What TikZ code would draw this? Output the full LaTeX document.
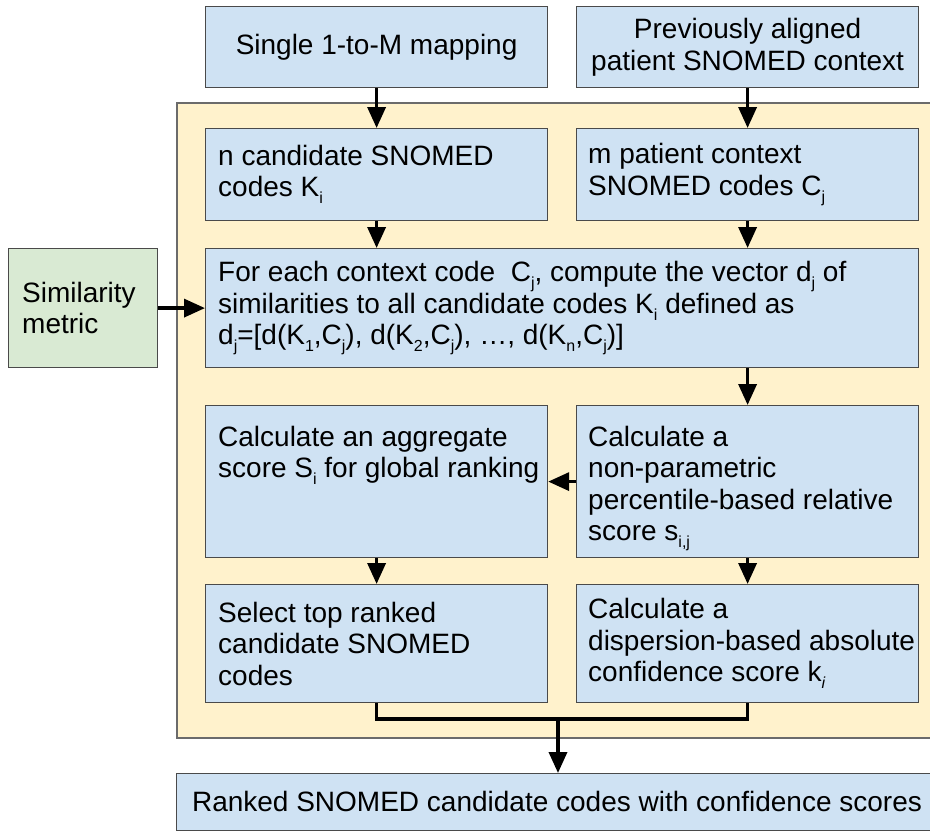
\documentclass[tikz,border=0pt]{standalone}
\usepackage{fontspec}
\setmainfont{Liberation Sans}
\usetikzlibrary{arrows.meta,calc}
\definecolor{boxblue}{HTML}{CFE2F3}
\definecolor{boxgreen}{HTML}{D9EAD3}
\definecolor{contyellow}{HTML}{FFF2CC}
\definecolor{bordergray}{HTML}{4A4A4A}
\definecolor{contgray}{HTML}{6B6B6B}
\newcommand\bodyfont{\fontsize{28}{31.5}\selectfont}
\newcommand\subs[1]{\raisebox{-7pt}{\fontsize{16}{16}\selectfont #1}}
\tikzset{
  box/.style={draw=bordergray, fill=boxblue, line width=1.2pt, inner sep=0pt, anchor=north west},
  gbox/.style={box, fill=boxgreen},
  txt/.style={font=\bodyfont, align=left, inner sep=0pt, text=black},
  arr/.style={line width=3.5pt, -{Triangle[length=21pt,width=18pt]}},
  plain/.style={line width=3.5pt},
}
\begin{document}
\begin{tikzpicture}[x=1pt,y=-1pt]
\useasboundingbox (0,0) rectangle (930,833);
% container
\node[draw=contgray, fill=contyellow, line width=1.5pt, inner sep=0pt, anchor=north west,
      minimum width=780pt, minimum height=635pt] (cont) at (176,102) {};
% boxes
\node[box, minimum width=342pt, minimum height=81pt] (single) at (205,6) {};
\node[box, minimum width=342pt, minimum height=81pt] (prev) at (576,6) {};
\node[box, minimum width=342pt, minimum height=92pt] (ncand) at (205,128) {};
\node[box, minimum width=342pt, minimum height=92pt] (mpat) at (576,128) {};
\node[gbox, minimum width=149pt, minimum height=119pt] (sim) at (8,248) {};
\node[box, minimum width=713pt, minimum height=119pt] (foreach) at (205,248) {};
\node[box, minimum width=342pt, minimum height=152pt] (agg) at (205,405) {};
\node[box, minimum width=342pt, minimum height=152pt] (nonpar) at (576,405) {};
\node[box, minimum width=342pt, minimum height=118pt] (sel) at (205,584) {};
\node[box, minimum width=342pt, minimum height=118pt] (disp) at (576,584) {};
\node[box, minimum width=780pt, minimum height=57pt] (ranked) at (176,773) {};
% texts
\node[txt, align=center] (singleT) at (single.center) {Single 1-to-M mapping};
\node[txt, align=center] (prevT) at (prev.center) {Previously aligned\\patient SNOMED context};
\node[txt, anchor=west] (ncandT) at ([xshift=13pt]ncand.west) {n candidate SNOMED\\codes K\subs{i}};
\node[txt, anchor=west] (mpatT) at ([xshift=12pt]mpat.west) {m patient context\\SNOMED codes C\subs{j}};
\node[txt, anchor=west] (simT) at ([xshift=14pt]sim.west) {Similarity\\metric};
\node[txt, anchor=west] (foreachT) at ([xshift=13pt]foreach.west)
  {For each context code \ C\subs{j}, compute the vector d\subs{j} of\\
   similarities to all candidate codes K\subs{i} defined as\\
   d\subs{j}=[d(K\subs{1},C\subs{j}), d(K\subs{2},C\subs{j}), …, d(K\subs{n},C\subs{j})]};
\node[txt, anchor=north west] (aggT) at ([xshift=13pt,yshift=-21pt]agg.north west)
  {Calculate an aggregate\\score S\subs{i} for global ranking};
\node[txt, anchor=north west] (nonparT) at ([xshift=12pt,yshift=-21pt]nonpar.north west)
  {Calculate a\\non-parametric\\percentile-based relative\\score s\subs{i,j}};
\node[txt, anchor=west] (selT) at ([xshift=13pt]sel.west)
  {Select top ranked\\candidate SNOMED\\codes};
\node[txt, anchor=west] (dispT) at ([xshift=12pt]disp.west)
  {Calculate a\\dispersion-based absolute\\confidence score k\subs{\textit{i}}};
\node[txt, align=center] (rankedT) at (557,801) {Ranked SNOMED candidate codes with confidence scores};
% connectors
\draw[arr] (single.south) -- (ncand.north);
\draw[arr] (prev.south) -- (mpat.north);
\draw[arr] (ncand.south) -- (ncand.south |- foreach.north);
\draw[arr] (mpat.south) -- (mpat.south |- foreach.north);
\draw[arr] (sim.east) -- (sim.east -| foreach.west);
\draw[arr] (nonpar.north |- foreach.south) -- (nonpar.north);
\draw[arr] (nonpar.west) -- (nonpar.west -| agg.east);
\draw[arr] (agg.south) -- (sel.north);
\draw[arr] (nonpar.south) -- (disp.north);
\coordinate (join) at (558,719);
\draw[plain] (sel.south) |- (join) -| (disp.south);
\draw[arr] (join) -- (join |- ranked.north);
\end{tikzpicture}
\end{document}
